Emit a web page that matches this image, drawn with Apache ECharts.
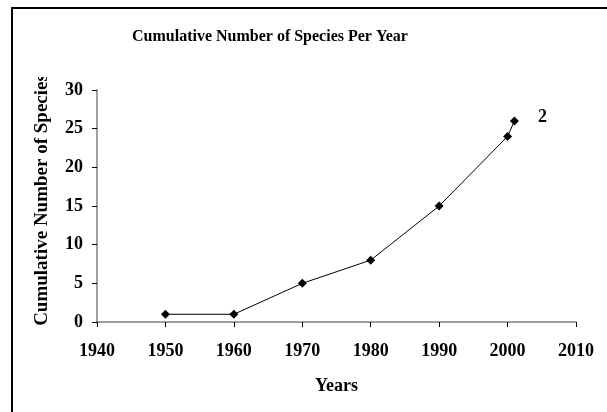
<!DOCTYPE html>
<html>
<head>
<meta charset="utf-8">
<script src="https://cdn.jsdelivr.net/npm/echarts@6/dist/echarts.min.js"></script>
<style>html,body{margin:0;padding:0;background:#fff}#c{width:607px;height:412px}</style>
</head>
<body>
<div id="c"></div>
<script>
const years = [1950, 1960, 1970, 1980, 1990, 2000, 2001];
const species = [1, 1, 5, 8, 15, 24, 26];
const lastLabel = '2';
const titleText = 'Cumulative Number of Species Per Year';
const xName = 'Years';
const yName = 'Cumulative Number of Species';

const font = 'Liberation Serif';
const chart = echarts.init(document.getElementById('c'));
chart.setOption({
  animation: false,
  backgroundColor: '#fff',
  title: {
    text: titleText, left: 127, top: 24,
    textStyle: {fontFamily: font, fontWeight: 'bold', fontSize: 16, color: '#000'}
  },
  grid: {left: 97, right: 31, top: 90, bottom: 90},
  xAxis: {
    type: 'value', min: 1940, max: 2010, interval: 10,
    name: xName, nameLocation: 'middle', nameGap: 55,
    nameTextStyle: {fontFamily: font, fontWeight: 'bold', fontSize: 18, color: '#000'},
    axisLine: {lineStyle: {color: '#808080', width: 1.5}},
    axisTick: {show: true, length: 5, lineStyle: {color: '#000'}},
    axisLabel: {fontFamily: font, fontWeight: 'bold', fontSize: 18, color: '#000', margin: 20,
      formatter: v => String(v)},
    splitLine: {show: false}
  },
  yAxis: {
    type: 'value', min: 0, max: 30, interval: 5,
    name: yName, nameLocation: 'middle', nameGap: 45, nameRotate: 90,
    nameTextStyle: {fontFamily: font, fontWeight: 'bold', fontSize: 19, color: '#000', padding: [0, 0, 0, 12]},
    axisLine: {show: true, lineStyle: {color: '#808080', width: 1.5}},
    axisTick: {show: true, length: 5, lineStyle: {color: '#000'}},
    axisLabel: {fontFamily: font, fontWeight: 'bold', fontSize: 18, color: '#000', margin: 14},
    splitLine: {show: false}
  },
  series: [{
    type: 'line',
    data: years.map((y, i) => [y, species[i]]),
    symbol: 'diamond', symbolSize: 9,
    itemStyle: {color: '#000'},
    lineStyle: {color: '#000', width: 1},
    label: {
      show: true,
      formatter: p => (p.dataIndex === years.length - 1 ? lastLabel : ''),
      position: 'right', offset: [14, -4],
      fontFamily: font, fontWeight: 'bold', fontSize: 18, color: '#000'
    }
  }],
  graphic: [
    {type: 'rect', shape: {x: 22, y: 10, width: 30, height: 67}, style: {fill: '#fff'}, z: 100},
    {type: 'rect', shape: {x: 12, y: 8, width: 700, height: 500}, style: {fill: 'none', stroke: '#000', lineWidth: 2}, z: 101}
  ]
});
</script>
</body>
</html>
